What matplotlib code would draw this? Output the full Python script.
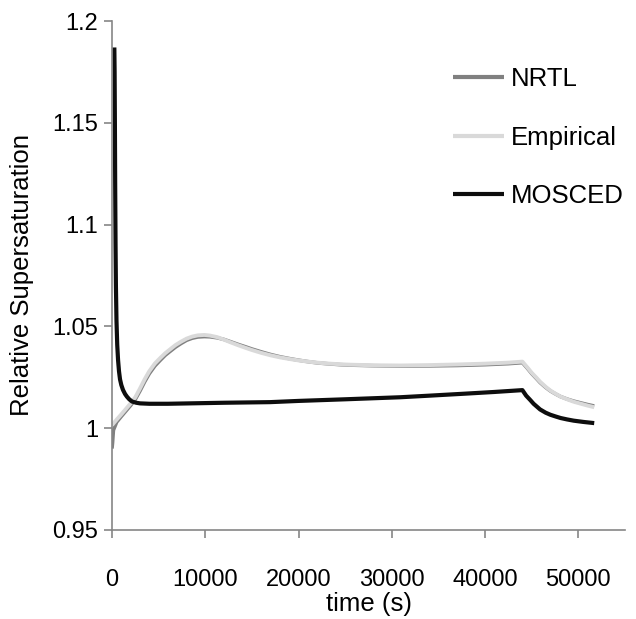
import matplotlib
matplotlib.use("Agg")
import matplotlib.pyplot as plt

plt.rcParams['font.family'] = ['Liberation Sans', 'DejaVu Sans']

# ---- data ----
t_emp = [0, 500, 1000, 1500, 2000, 2500, 3000, 3500, 4000, 4600, 5200, 5700, 6300, 6800,
         7400, 8000, 8600, 9200, 9900, 10500, 11300, 12000, 12700, 13500, 14300, 15000,
         16000, 17000, 18000, 19000, 20000, 21000, 22000, 23000, 24500, 25500, 28000,
         31000, 34000, 37000, 40000, 42500, 44000, 44500, 45000, 45500, 45900, 46500,
         47000, 47600, 48100, 48800, 49500, 50200, 51000, 51700]
v_emp = [1.0015, 1.0042, 1.0068, 1.0095, 1.0122, 1.0152, 1.0195, 1.0240, 1.0280, 1.0318,
         1.0346, 1.0368, 1.0390, 1.0408, 1.0425, 1.0440, 1.0450, 1.0456, 1.0458, 1.0455,
         1.0447, 1.0435, 1.0422, 1.0408, 1.0395, 1.0384, 1.0370, 1.0358, 1.0348, 1.0340,
         1.0333, 1.0327, 1.0322, 1.0318, 1.0314, 1.0312, 1.0309, 1.0308, 1.0310, 1.0313,
         1.0317, 1.0322, 1.0327, 1.0300, 1.0272, 1.0248, 1.0228, 1.0203, 1.0185, 1.0168,
         1.0155, 1.0142, 1.0130, 1.0121, 1.0111, 1.0103]

t_nrtl = [0, 60, 150, 500, 1000, 1500, 2000, 2500, 3000, 3500, 4000, 4600, 5200, 5700,
          6300, 6800, 7400, 8000, 8600, 9200, 9900, 10500, 11300, 12000, 12700, 13500,
          14300, 15000, 16000, 17000, 18000, 19000, 20000, 21000, 22000, 23000, 24500,
          25500, 28000, 31000, 34000, 37000, 40000, 42500, 44000, 44500, 45000, 45500,
          45900, 46500, 47000, 47600, 48100, 48800, 49500, 50200, 51000, 51700]
v_nrtl = [0.9900, 0.9930, 0.9990, 1.0030, 1.0058, 1.0085, 1.0112, 1.0142, 1.0183, 1.0228,
          1.0268, 1.0306, 1.0335, 1.0358, 1.0380, 1.0398, 1.0416, 1.0432, 1.0442, 1.0448,
          1.0450, 1.0449, 1.0444, 1.0436, 1.0425, 1.0412, 1.0400, 1.0389, 1.0375, 1.0362,
          1.0351, 1.0342, 1.0334, 1.0327, 1.0321, 1.0317, 1.0312, 1.0310, 1.0307, 1.0305,
          1.0306, 1.0308, 1.0312, 1.0317, 1.0322, 1.0296, 1.0268, 1.0244, 1.0224, 1.0200,
          1.0183, 1.0167, 1.0155, 1.0143, 1.0133, 1.0125, 1.0116, 1.0109]

t_mos = [250, 280, 310, 340, 380, 420, 480, 560, 650, 750, 860, 1000, 1180, 1400, 1600,
         1850, 2150, 2600, 3000, 4000, 6000, 8400, 12000, 16950, 20000, 25000, 30900,
         34100, 38000, 41000, 44000, 44400, 44850, 45200, 45900, 46500, 47000, 47600,
         48100, 48800, 49500, 50500, 51700]
v_mos = [1.1870, 1.1750, 1.1500, 1.1200, 1.0900, 1.0700, 1.0530, 1.0410, 1.0335, 1.0280,
         1.0240, 1.0212, 1.0188, 1.0168, 1.0155, 1.0142, 1.0131, 1.0125, 1.0122, 1.0120,
         1.0120, 1.0122, 1.0125, 1.0128, 1.0134, 1.0142, 1.0152, 1.0160, 1.0170, 1.0178,
         1.0187, 1.0160, 1.0138, 1.0120, 1.0092, 1.0076, 1.0066, 1.0057, 1.0050, 1.0043,
         1.0037, 1.0031, 1.0025]

series_names = ['NRTL', 'Empirical', 'MOSCED']
xticks = [0, 10000, 20000, 30000, 40000, 50000]
yticks = [0.95, 1.0, 1.05, 1.1, 1.15, 1.2]
ytick_labels = ['0.95', '1', '1.05', '1.1', '1.15', '1.2']

# ---- figure ----
fig = plt.figure(figsize=(6.36, 6.19), dpi=100)
ax = fig.add_axes([112/636, 1 - 530/619, (625-112)/636, (530-21)/619])

ax.plot(t_nrtl, v_nrtl, color='#808080', lw=2.6, label=series_names[0], solid_capstyle='butt')
ax.plot(t_emp, v_emp, color='#d9d9d9', lw=2.8, label=series_names[1], solid_capstyle='butt')
ax.plot(t_mos, v_mos, color='#0d0d0d', lw=3.0, label=series_names[2], solid_capstyle='butt')

ax.set_xlim(0, 55000)
ax.set_ylim(0.95, 1.2)
ax.set_xticks(xticks)
ax.set_xticklabels([str(x) for x in xticks])
ax.set_yticks(yticks)
ax.set_yticklabels(ytick_labels)

for s in ['top', 'right']:
    ax.spines[s].set_visible(False)
for s in ['left', 'bottom']:
    ax.spines[s].set_color('#868686')
    ax.spines[s].set_linewidth(1.2)

ax.tick_params(axis='both', colors='#868686', labelcolor='black', labelsize=17,
               length=6, width=1.2, direction='out')
ax.tick_params(axis='x', pad=22)
ax.tick_params(axis='y', pad=4)

ax.set_xlabel('time (s)', fontsize=18.5, labelpad=1)
ax.set_ylabel('Relative Supersaturation', fontsize=18.5, labelpad=13)

leg = ax.legend(loc='upper left', bbox_to_anchor=(453/636, 1 - 67/619),
                bbox_transform=fig.transFigure, frameon=False, fontsize=18.5,
                handlelength=2.0, handletextpad=0.25, labelspacing=1.35,
                borderpad=0, borderaxespad=0)
for h in leg.get_lines():
    h.set_linewidth(3)

fig.savefig('out.png', dpi=100)
